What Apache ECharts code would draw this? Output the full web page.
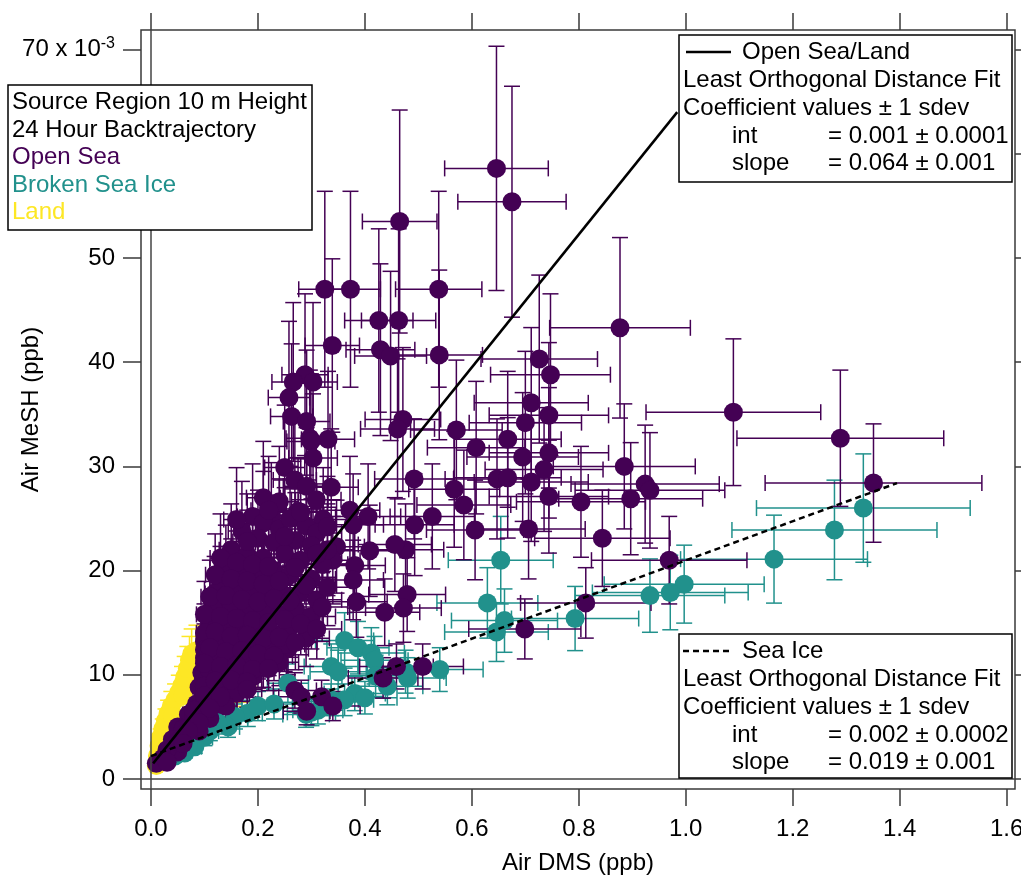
<!DOCTYPE html>
<html>
<head>
<meta charset="utf-8">
<script src="https://cdn.jsdelivr.net/npm/echarts@6/dist/echarts.min.js"></script>
<style>
  html, body { margin: 0; padding: 0; background: #fff; }
  #chart { width: 1021px; height: 875px; }
</style>
</head>
<body>
<div id="chart"></div>
<script>
// Air DMS (ppb) vs Air MeSH (10^-3 ppb), 24 h backtrajectory source region
const xTicks = [0, 0.2, 0.4, 0.6, 0.8, 1.0, 1.2, 1.4, 1.6]
const yTicks = [0, 10, 20, 30, 40, 50, 60, 70]

// error bars are +-15% in x and +-20% in y on the picture
const xErrFrac = 0.15
const yErrFrac = 0.20

const landX = [0.010, 0.012, 0.015, 0.018, 0.022, 0.027, 0.032, 0.038, 0.045, 0.052, 0.058, 0.063,
    0.068, 0.072, 0.076, 0.085, 0.128, 0.145, 0.170, 0.165, 0.155, 0.040, 0.030, 0.060]
const landY = [1.3, 2.2, 3.2, 4.0, 4.8, 5.6, 6.3, 7.0, 7.6, 8.3, 9.0, 9.8,
    10.6, 11.4, 12.0, 12.3, 14.3, 15.2, 9.2, 10.0, 8.7, 6.0, 4.6, 8.0]

const iceX = [1.332, 1.278, 1.165, 0.997, 0.971, 0.933, 0.793, 0.654, 0.629, 0.661, 0.646, 0.540,
    0.476, 0.362, 0.387, 0.412, 0.418, 0.337, 0.256, 0.442, 0.381, 0.400, 0.362, 0.337,
    0.312, 0.181, 0.157, 0.144, 0.125, 0.100, 0.082, 0.063, 0.039, 0.045, 0.070, 0.110,
    0.200, 0.230, 0.290, 0.300, 0.420, 0.480, 0.350]
const iceY = [26.0, 23.9, 21.1, 18.7, 17.9, 17.6, 15.4, 21.0, 16.9, 15.2, 14.1, 10.5,
    10.3, 13.3, 12.6, 12.1, 11.4, 10.8, 9.2, 8.9, 8.2, 7.8, 7.6, 7.6,
    6.6, 6.3, 6.0, 5.0, 5.4, 4.0, 3.1, 2.5, 2.8, 2.2, 3.3, 4.6,
    7.0, 7.2, 6.2, 6.4, 9.9, 9.7, 10.3]

const openX = [
    0.646, 0.675, 0.465, 0.325, 0.373, 0.538, 0.426, 0.463, 0.877, 0.339, 0.429, 0.448,
    0.726, 0.747, 0.711, 0.744, 0.700, 0.571, 0.667, 0.471, 0.461, 1.089, 1.289, 1.351,
    0.288, 0.266, 0.303, 0.258, 0.263, 0.291, 0.297, 0.331, 0.608, 0.695, 0.744, 0.735,
    0.885, 0.492, 0.567, 0.585, 0.526, 0.493, 0.476, 0.479, 0.472, 0.647, 0.667, 0.711,
    0.606, 0.706, 0.744, 0.804, 0.897, 0.924, 0.933, 0.844, 0.969, 0.813, 0.699, 0.508,
    0.299, 0.303, 0.250, 0.269, 0.291, 0.337, 0.309, 0.275, 0.225, 0.322, 0.372, 0.406,
    0.378, 0.347, 0.340, 0.409, 0.456, 0.381, 0.378, 0.384, 0.437, 0.119, 0.256, 0.200,
    0.269, 0.281, 0.291, 0.319, 0.340, 0.434, 0.459, 0.539, 0.210, 0.240,
    // dense cluster
    0.19, 0.21, 0.24, 0.26, 0.29, 0.31, 0.17, 0.20, 0.23, 0.27,
    0.15, 0.18, 0.21, 0.25, 0.28, 0.32, 0.14, 0.17, 0.20, 0.23, 0.26, 0.30,
    0.13, 0.16, 0.19, 0.22, 0.25, 0.28, 0.31, 0.12, 0.15, 0.18, 0.21, 0.24, 0.27, 0.30,
    0.11, 0.14, 0.17, 0.20, 0.23, 0.26, 0.29, 0.10, 0.13, 0.16, 0.19, 0.22, 0.25,
    0.10, 0.12, 0.15, 0.18, 0.21, 0.24, 0.095, 0.11, 0.14, 0.17, 0.19,
    0.09, 0.10, 0.13, 0.16, 0.085, 0.10, 0.12, 0.14, 0.07, 0.08, 0.11,
    0.05, 0.06, 0.09, 0.04, 0.05, 0.03, 0.05, 0.022, 0.01, 0.03,
    0.16, 0.22, 0.28, 0.33, 0.18, 0.25, 0.30, 0.33, 0.13, 0.16, 0.19, 0.22, 0.27, 0.31,
    0.12, 0.15, 0.18, 0.21, 0.24, 0.29, 0.33, 0.11, 0.14, 0.17, 0.20, 0.23, 0.26, 0.32,
    0.10, 0.13, 0.16, 0.19, 0.22, 0.25, 0.28, 0.31, 0.10, 0.12, 0.15, 0.18, 0.21, 0.24, 0.27,
    0.10, 0.11, 0.14, 0.17, 0.20, 0.23, 0.10, 0.13, 0.16, 0.19, 0.22, 0.12, 0.15, 0.18,
    0.10, 0.13, 0.18, 0.08, 0.11, 0.09, 0.07, 0.06]
const openY = [
    58.6, 55.4, 53.5, 47.0, 47.0, 47.0, 44.0, 44.0, 43.3, 41.6, 41.2, 40.6,
    40.3, 38.8, 36.1, 34.9, 34.2, 33.5, 32.6, 34.5, 33.6, 35.2, 32.7, 28.4,
    38.8, 38.1, 38.1, 36.6, 34.8, 34.3, 32.7, 32.6, 31.8, 30.9, 31.3, 29.7,
    30.0, 28.8, 27.8, 26.3, 25.2, 24.4, 22.0, 17.7, 16.4, 28.8, 28.9, 28.5,
    23.9, 24.0, 27.1, 26.6, 26.9, 28.3, 27.7, 23.1, 21.0, 16.9, 14.4, 10.8,
    32.4, 30.8, 29.9, 28.7, 28.1, 28.0, 26.8, 25.7, 25.3, 24.9, 25.8, 25.2,
    24.4, 22.3, 21.0, 21.9, 22.5, 20.5, 19.1, 17.0, 16.0, 17.8, 12.5, 10.9,
    8.5, 7.9, 6.5, 7.9, 7.0, 9.7, 10.8, 40.7, 27.0, 26.6,
    // dense cluster
    25.2, 24.6, 24.0, 25.0, 24.3, 23.6, 23.8, 23.1, 22.7, 22.9,
    22.0, 21.5, 21.2, 21.6, 21.0, 20.6, 20.3, 19.8, 19.5, 20.0, 19.6, 19.2,
    18.6, 18.2, 17.8, 18.3, 17.6, 17.9, 17.2, 16.5, 16.8, 16.2, 16.0, 15.8, 16.3, 15.6,
    14.8, 14.9, 14.5, 14.2, 13.9, 14.6, 13.5, 13.2, 13.4, 12.8, 13.0, 12.4, 12.9,
    11.6, 11.9, 11.3, 11.6, 11.0, 11.2, 10.2, 10.4, 9.9, 10.2, 9.8,
    8.8, 8.9, 8.6, 8.2, 7.2, 7.2, 7.5, 7.0, 6.2, 6.0, 5.8,
    5.0, 4.8, 4.6, 3.8, 2.6, 2.8, 3.6, 2.0, 1.5, 1.6,
    24.9, 25.8, 25.6, 24.2, 22.8, 23.3, 22.4, 22.0, 21.2, 20.8, 20.6, 20.4, 20.3, 21.6,
    19.6, 19.2, 19.0, 18.7, 19.0, 18.6, 18.4, 17.5, 17.6, 17.2, 17.0, 17.3, 17.1, 16.5,
    15.8, 15.6, 15.4, 15.2, 15.0, 15.3, 14.9, 14.4, 14.0, 14.1, 13.7, 13.8, 13.5, 13.6, 13.1,
    12.4, 12.6, 12.2, 12.3, 12.0, 11.8, 11.1, 10.8, 10.9, 10.5, 10.6, 9.4, 9.5, 9.3,
    8.0, 7.9, 8.6, 6.6, 6.8, 5.4, 4.6, 3.4]

// fit lines, end points
const openFitX = [0.004, 0.984]
const openFitY = [1.5, 64.0]
const iceFitX = [0.0, 1.395]
const iceFitY = [2.2, 28.4]

const purple = '#440154'
const teal = '#21918c'
const yellow = '#fde725'
const font = "'Liberation Sans', Arial, sans-serif"

const pairs = (xs, ys) => xs.map((x, i) => [x, ys[i]])

const errorBars = (xs, ys, color) => ({
    type: 'custom',
    data: pairs(xs, ys),
    encode: { x: 0, y: 1 },
    silent: true,
    renderItem: (params, api) => {
        const x = api.value(0), y = api.value(1)
        const c = api.coord([x, y])
        const xl = api.coord([x * (1 - xErrFrac), y])[0]
        const xr = api.coord([x * (1 + xErrFrac), y])[0]
        const yt = api.coord([x, y * (1 + yErrFrac)])[1]
        const yb = api.coord([x, y * (1 - yErrFrac)])[1]
        const cap = 8
        const style = { stroke: color, lineWidth: 1.5, fill: null }
        const ln = (x1, y1, x2, y2) => ({ type: 'line', shape: { x1, y1, x2, y2 }, style })
        return {
            type: 'group',
            children: [
                ln(xl, c[1], xr, c[1]),
                ln(xl, c[1] - cap, xl, c[1] + cap),
                ln(xr, c[1] - cap, xr, c[1] + cap),
                ln(c[0], yt, c[0], yb),
                ln(c[0] - cap, yt, c[0] + cap, yt),
                ln(c[0] - cap, yb, c[0] + cap, yb)
            ]
        }
    }
})

const dots = (xs, ys, color) => ({
    type: 'scatter',
    data: pairs(xs, ys),
    symbol: 'circle',
    symbolSize: 19,
    itemStyle: { color: color, opacity: 1 },
    silent: true
})

const txt = (text, x, y, color) => ({
    type: 'text', z: 101,
    style: { text: text, x: x, y: y, fill: color || '#000', font: '24px ' + font, verticalAlign: 'middle' }
})

const box = (x, y, w, h) => ({
    type: 'rect', z: 100,
    shape: { x: x, y: y, width: w, height: h },
    style: { fill: '#fff', stroke: '#000', lineWidth: 1.5 }
})

const tickStyle = { color: '#3a3a3a', width: 1.5 }

const chart = echarts.init(document.getElementById('chart'))
chart.setOption({
    animation: false,
    backgroundColor: '#fff',
    grid: {
        left: 141, right: 6, top: 30, bottom: 86,
        outerBoundsMode: 'none', containLabel: false,
        show: true, borderColor: '#3a3a3a', borderWidth: 1.5, backgroundColor: 'transparent'
    },
    xAxis: [
        {
            type: 'value', position: 'bottom', min: -0.0187, max: 1.6156,
            name: 'Air DMS (ppb)', nameLocation: 'middle', nameGap: 62, nameMoveOverlap: false,
            nameTextStyle: { fontSize: 24, fontFamily: font, color: '#000' },
            axisLine: { show: false, onZero: false },
            axisTick: { show: true, inside: false, length: 17, customValues: xTicks, lineStyle: tickStyle },
            axisLabel: { customValues: xTicks, margin: 28, fontSize: 24, fontFamily: font, color: '#000',
                hideOverlap: false, formatter: v => v.toFixed(1) },
            splitLine: { show: false }
        },
        {
            type: 'value', position: 'top', min: -0.0187, max: 1.6156,
            axisLine: { show: false, onZero: false },
            axisTick: { show: true, inside: false, length: 17, customValues: xTicks, lineStyle: tickStyle },
            axisLabel: { show: false },
            splitLine: { show: false }
        }
    ],
    yAxis: [
        {
            type: 'value', position: 'left', min: -0.96, max: 71.88,
            name: 'Air MeSH (ppb)', nameLocation: 'middle', nameGap: 98, nameMoveOverlap: false,
            nameTextStyle: { fontSize: 24, fontFamily: font, color: '#000' },
            axisLine: { show: false, onZero: false },
            axisTick: { show: true, inside: false, length: 18, customValues: yTicks, lineStyle: tickStyle },
            axisLabel: {
                customValues: yTicks, margin: 26, fontSize: 24, fontFamily: font, color: '#000',
                hideOverlap: false,
                formatter: v => v === 70 ? '70 x 10{sup|-3}' : String(v),
                rich: { sup: { fontSize: 16, fontFamily: font, color: '#000', verticalAlign: 'top', padding: [0, 0, 12, 0] } }
            },
            splitLine: { show: false }
        },
        {
            type: 'value', position: 'right', min: -0.96, max: 71.88,
            axisLine: { show: false, onZero: false },
            axisTick: { show: true, inside: false, length: 17, customValues: yTicks, lineStyle: tickStyle },
            axisLabel: { show: false },
            splitLine: { show: false }
        }
    ],
    series: [
        {
            type: 'line', data: [], silent: true,
            markLine: {
                silent: true, symbol: ['none', 'none'], label: { show: false },
                lineStyle: { color: '#444', width: 1.5, type: 'solid' },
                emphasis: { disabled: true },
                data: [{ xAxis: 0 }, { yAxis: 0 }]
            }
        },
        errorBars(landX, landY, yellow),
        dots(landX, landY, yellow),
        errorBars(iceX, iceY, teal),
        dots(iceX, iceY, teal),
        errorBars(openX, openY, purple),
        dots(openX, openY, purple),
        {
            type: 'line', data: pairs(openFitX, openFitY), symbol: 'none', silent: true, z: 5,
            lineStyle: { color: '#000', width: 2.5, type: 'solid' }
        },
        {
            type: 'line', data: pairs(iceFitX, iceFitY), symbol: 'none', silent: true, z: 5,
            lineStyle: { color: '#000', width: 2.5, type: [6, 4] }
        }
    ],
    graphic: [
        box(8, 85, 304, 145),
        txt('Source Region 10 m Height', 12, 102),
        txt('24 Hour Backtrajectory', 12, 130),
        txt('Open Sea', 12, 157, purple),
        txt('Broken Sea Ice', 12, 185, teal),
        txt('Land', 12, 212, yellow),

        box(679, 35, 333, 147),
        { type: 'line', z: 101, shape: { x1: 686, y1: 52, x2: 731, y2: 52 }, style: { stroke: '#000', lineWidth: 2.5 } },
        txt('Open Sea/Land', 742, 52),
        txt('Least Orthogonal Distance Fit', 683, 80),
        txt('Coefficient values \u00b1 1 sdev', 683, 108),
        txt('int', 732, 136),
        txt('= 0.001 \u00b1 0.0001', 828, 136),
        txt('slope', 732, 163),
        txt('= 0.064 \u00b1 0.001', 828, 163),

        box(679, 634, 333, 144),
        { type: 'line', z: 101, shape: { x1: 683, y1: 651, x2: 731, y2: 651 }, style: { stroke: '#000', lineWidth: 2.5, lineDash: [6, 4] } },
        txt('Sea Ice', 742, 651),
        txt('Least Orthogonal Distance Fit', 683, 679),
        txt('Coefficient values \u00b1 1 sdev', 683, 707),
        txt('int', 732, 735),
        txt('= 0.002 \u00b1 0.0002', 828, 735),
        txt('slope', 732, 762),
        txt('= 0.019 \u00b1 0.001', 828, 762)
    ]
})
</script>
</body>
</html>
